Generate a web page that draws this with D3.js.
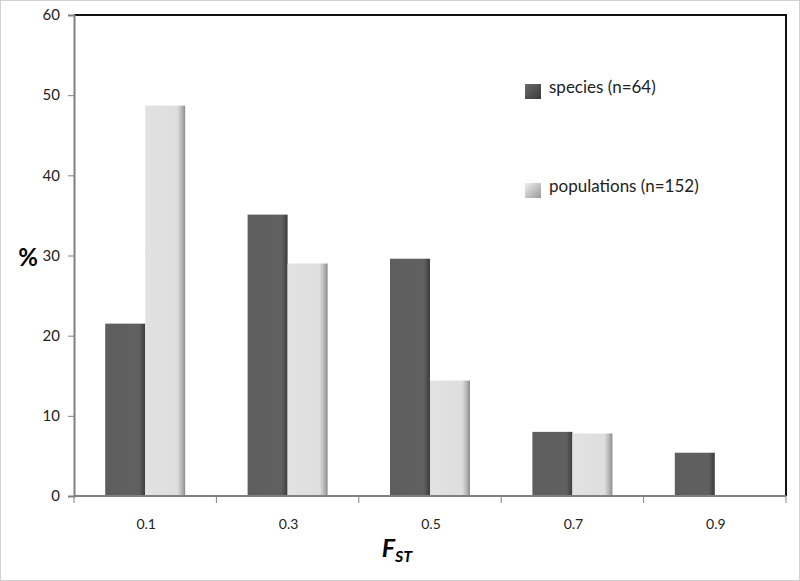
<!DOCTYPE html>
<html>
<head>
<meta charset="utf-8">
<script src="https://cdn.jsdelivr.net/npm/d3@7"></script>
<style>
  body { margin: 0; background: #fff; }
  svg { display: block; font-family: Lato, "Open Sans", sans-serif; }
</style>
</head>
<body>
<div id="chart"></div>
<script>
const categories = ['0.1', '0.3', '0.5', '0.7', '0.9'];
const seriesNames = ['species (n=64)', 'populations (n=152)'];
const species = [21.5, 35.1, 29.6, 8.0, 5.4];
const populations = [48.7, 29.0, 14.4, 7.8, 0];
const yTicks = [0, 10, 20, 30, 40, 50, 60];

const width = 800;
const height = 581;

function createChart() {
    const usableArea = { left: 74, right: 786, top: 15, bottom: 496 };

    const svg = d3.select('#chart')
        .append('svg')
        .attr('width', width)
        .attr('height', height);

    // gradients for the bars (excel-like shading)
    const defs = svg.append('defs');
    const gDark = defs.append('linearGradient').attr('id', 'gDark').attr('x1', 0).attr('x2', 1).attr('y1', 0).attr('y2', 0);
    gDark.append('stop').attr('offset', '0%').attr('stop-color', '#5e5e5e');
    gDark.append('stop').attr('offset', '85%').attr('stop-color', '#606060');
    gDark.append('stop').attr('offset', '100%').attr('stop-color', '#3c3c3c');
    const gLight = defs.append('linearGradient').attr('id', 'gLight').attr('x1', 0).attr('x2', 1).attr('y1', 0).attr('y2', 0);
    gLight.append('stop').attr('offset', '0%').attr('stop-color', '#e2e2e2');
    gLight.append('stop').attr('offset', '80%').attr('stop-color', '#dedede');
    gLight.append('stop').attr('offset', '92%').attr('stop-color', '#b4b4b4');
    gLight.append('stop').attr('offset', '100%').attr('stop-color', '#8a8a8a');
    const lgDark = defs.append('linearGradient').attr('id', 'lgDark').attr('x1', 0).attr('x2', 1).attr('y1', 0).attr('y2', 1);
    lgDark.append('stop').attr('offset', '0%').attr('stop-color', '#6a6a6a');
    lgDark.append('stop').attr('offset', '100%').attr('stop-color', '#3a3a3a');
    const lgLight = defs.append('linearGradient').attr('id', 'lgLight').attr('x1', 0).attr('x2', 1).attr('y1', 0).attr('y2', 1);
    lgLight.append('stop').attr('offset', '0%').attr('stop-color', '#f0f0f0');
    lgLight.append('stop').attr('offset', '100%').attr('stop-color', '#9a9a9a');

    // outer frame
    svg.append('rect')
        .attr('x', 0.5).attr('y', 0.5)
        .attr('width', width - 1).attr('height', height - 1)
        .style('fill', 'none')
        .style('stroke', '#d0d0d0');

    const xScale = d3.scaleBand()
        .domain(categories)
        .range([usableArea.left, usableArea.right])
        .paddingInner(0)
        .paddingOuter(0);

    const inner = d3.scaleBand()
        .domain(seriesNames)
        .range([0, xScale.bandwidth()])
        .paddingOuter(0.78)
        .paddingInner(0);

    const yScale = d3.scaleLinear()
        .domain([0, 60])
        .range([usableArea.bottom, usableArea.top]);

    // top and right border of the plot
    svg.append('path')
        .attr('d', `M${usableArea.left},${usableArea.top}H${usableArea.right}V${usableArea.bottom}`)
        .style('fill', 'none')
        .style('stroke', '#111')
        .style('stroke-width', 2);

    // bars
    const rows = categories.map((c, i) => ({ cat: c, values: [species[i], populations[i]] }));
    const groups = svg.append('g').selectAll('g')
        .data(rows)
        .join('g')
        .attr('transform', d => `translate(${xScale(d.cat)},0)`);

    groups.selectAll('rect')
        .data(d => d.values.map((v, j) => ({ name: seriesNames[j], value: v, j })))
        .join('rect')
        .filter(d => d.value > 0)
        .attr('x', d => inner(d.name))
        .attr('width', inner.bandwidth())
        .attr('y', d => yScale(d.value))
        .attr('height', d => yScale(0) - yScale(d.value))
        .style('fill', d => d.j === 0 ? 'url(#gDark)' : 'url(#gLight)');

    // axes
    const yAxis = d3.axisLeft(yScale).tickValues(yTicks).tickSize(6).tickPadding(8);
    const yG = svg.append('g')
        .attr('transform', `translate(${usableArea.left},0)`)
        .call(yAxis);
    yG.select('.domain').style('stroke', '#808080').style('stroke-width', 2);
    yG.selectAll('.tick line').style('stroke', '#808080');
    yG.selectAll('.tick text').style('font-size', '15px').style('fill', '#222')
        .style('font-family', 'Lato, sans-serif');

    const tickPos = categories.map(c => xScale(c)).concat([usableArea.right]);
    const xG = svg.append('g')
        .attr('transform', `translate(0,${usableArea.bottom})`);
    xG.append('line')
        .attr('x1', usableArea.left).attr('x2', usableArea.right)
        .style('stroke', '#808080').style('stroke-width', 2);
    xG.selectAll('.xt')
        .data(tickPos)
        .join('line')
        .attr('class', 'xt')
        .attr('x1', d => d).attr('x2', d => d)
        .attr('y1', 0).attr('y2', 7)
        .style('stroke', '#808080');
    xG.selectAll('text')
        .data(categories)
        .join('text')
        .attr('x', d => xScale(d) + xScale.bandwidth() / 2 + 1)
        .attr('y', 33)
        .attr('text-anchor', 'middle')
        .style('font-size', '14px')
        .style('fill', '#222')
        .text(d => d);

    // axis titles
    svg.append('text')
        .attr('x', 28).attr('y', 266)
        .attr('text-anchor', 'middle')
        .style('font-size', '24px')
        .style('font-weight', 'bold')
        .text('%');

    const fst = svg.append('text')
        .attr('x', 397).attr('y', 557)
        .attr('text-anchor', 'middle')
        .style('font-weight', 'bold')
        .style('font-style', 'italic');
    fst.append('tspan').style('font-size', '25px').text('F');
    fst.append('tspan').style('font-size', '16px').attr('dy', 5).text('ST');

    // legend
    const legend = svg.append('g');
    const legendY = [84, 183];
    seriesNames.forEach((name, i) => {
        legend.append('rect')
            .attr('x', 525).attr('y', legendY[i])
            .attr('width', 16).attr('height', 15)
            .style('fill', i === 0 ? 'url(#lgDark)' : 'url(#lgLight)');
        legend.append('text')
            .attr('x', 549).attr('y', legendY[i] + 9)
            .style('font-size', '17px')
            .style('fill', '#222')
            .text(name);
    });
}

createChart();
</script>
</body>
</html>
